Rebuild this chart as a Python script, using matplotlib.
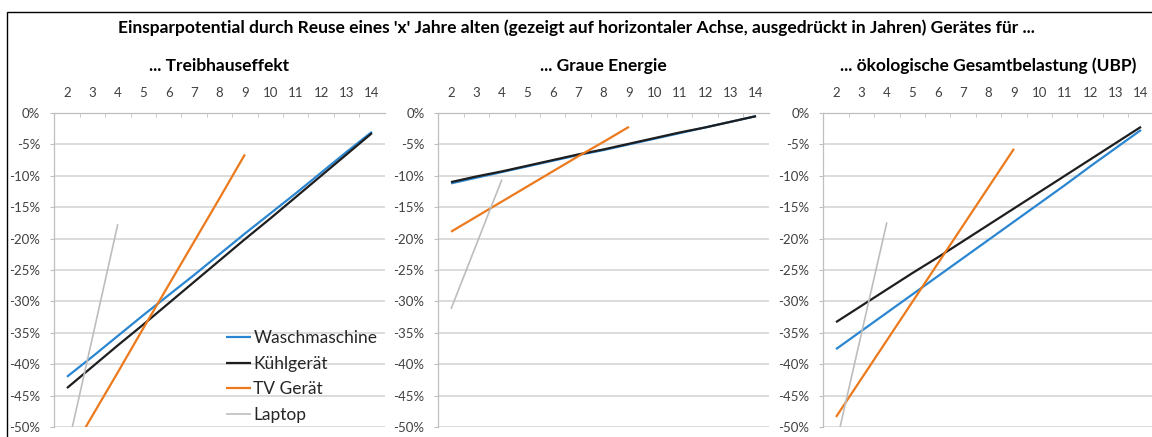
import matplotlib
matplotlib.use('Agg')
import matplotlib.pyplot as plt
from matplotlib.patches import Rectangle
from matplotlib.ticker import FuncFormatter, MultipleLocator, FixedLocator

plt.rcParams['font.family'] = ['Lato', 'DejaVu Sans']

# data (values in percent)
years = [2, 3, 4, 5, 6, 7, 8, 9, 10, 11, 12, 13, 14]
series = ['Waschmaschine', 'Kühlgerät', 'TV Gerät', 'Laptop']
panel_titles = ['... Treibhauseffekt', '... Graue Energie', '... ökologische Gesamtbelastung (UBP)']

# Treibhauseffekt
thg_wasch = [-42.0, -38.8, -35.5, -32.2, -29.0, -25.8, -22.5, -19.2, -16.0, -12.8, -9.5, -6.2, -3.0]
thg_kuehl = [-43.8, -40.4, -37.0, -33.7, -30.3, -26.9, -23.5, -20.1, -16.8, -13.4, -10.0, -6.6, -3.2]
thg_tv = [-55.1, -48.2, -41.3, -34.3, -27.4, -20.5, -13.6, -6.6]
thg_laptop = [-53.8, -35.8, -17.7]

# Graue Energie
ge_wasch = [-11.2, -10.3, -9.4, -8.5, -7.6, -6.7, -5.9, -5.0, -4.1, -3.2, -2.3, -1.4, -0.5]
ge_kuehl = [-11.0, -10.1, -9.3, -8.4, -7.5, -6.6, -5.8, -4.9, -4.0, -3.1, -2.3, -1.4, -0.5]
ge_tv = [-18.9, -16.5, -14.1, -11.7, -9.3, -6.9, -4.6, -2.2]
ge_laptop = [-31.2, -20.9, -10.6]

# UBP
ubp_wasch = [-37.6, -34.7, -31.8, -28.9, -26.0, -23.1, -20.2, -17.3, -14.4, -11.5, -8.5, -5.6, -2.7]
ubp_kuehl = [-33.3, -30.7, -28.1, -25.5, -23.0, -20.4, -17.8, -15.2, -12.6, -10.0, -7.4, -4.8, -2.2]
ubp_tv = [-48.4, -42.3, -36.2, -30.1, -24.0, -17.9, -11.8, -5.7]
ubp_laptop = [-52.8, -35.1, -17.4]

panels = [
    [thg_wasch, thg_kuehl, thg_tv, thg_laptop],
    [ge_wasch, ge_kuehl, ge_tv, ge_laptop],
    [ubp_wasch, ubp_kuehl, ubp_tv, ubp_laptop],
]

colors = ['#2a86d1', '#1e1e1e', '#ec7a1c', '#bdbdbd']
widths = [1.6, 1.6, 1.6, 1.2]

fig = plt.figure(figsize=(11.52, 4.37), dpi=100)

# outer chart border
fig.patches.append(Rectangle((0.0058, -0.1), 1.1, 0.1 + 0.973, transform=fig.transFigure,
                             fill=False, edgecolor='#000000', linewidth=1.0))

fig.text(0.5, 0.936, "Einsparpotential durch Reuse eines 'x' Jahre alten (gezeigt auf horizontaler Achse, "
         "ausgedrückt in Jahren) Gerätes für ...", ha='center', va='center',
         fontsize=12.5, fontweight='bold')

lefts = [0.0471, 0.3805, 0.7147]
for i, ax_left in enumerate(lefts):
    ax = fig.add_axes([ax_left, 0.0229, 0.2868, 0.7185])
    for j, vals in enumerate(panels[i]):
        ax.plot(years[:len(vals)], vals, color=colors[j], linewidth=widths[j],
                label=series[j], solid_capstyle='butt')
    ax.set_xlim(1.5, 14.5)
    ax.set_ylim(-50, 0)

    ax.xaxis.tick_top()
    ax.set_xticks(years)
    ax.xaxis.set_minor_locator(FixedLocator([y + 0.5 for y in years[:-1]]))
    ax.tick_params(axis='x', which='major', length=0, pad=10, labelsize=9.5, labelcolor='#404040')
    ax.tick_params(axis='x', which='minor', length=3, direction='in', color='#bfbfbf', top=True, bottom=False)

    ax.yaxis.set_major_locator(MultipleLocator(5))
    ax.yaxis.set_major_formatter(FuncFormatter(lambda v, p: f"{v:.0f}%"))
    ax.tick_params(axis='y', length=3, color='#bfbfbf', pad=7, labelsize=9.5, labelcolor='#404040')

    ax.grid(axis='y', color='#d9d9d9', linewidth=1.3)
    ax.set_axisbelow(True)
    for side in ['right', 'bottom']:
        ax.spines[side].set_visible(False)
    for side in ['top', 'left']:
        ax.spines[side].set_color('#bfbfbf')
        ax.spines[side].set_linewidth(0.9)

    ax.text(0.5, 1.15, panel_titles[i], transform=ax.transAxes, ha='center', va='center',
            fontsize=12.5, fontweight='bold')

    if i == 0:
        ax.legend(loc='lower right', bbox_to_anchor=(0.999, -0.01), frameon=False, fontsize=12.5,
                  handlelength=1.45, handletextpad=0.12, labelspacing=0.56, borderaxespad=0,
                  labelcolor='#262626')

fig.savefig('out.png', dpi=100)
plt.close(fig)
